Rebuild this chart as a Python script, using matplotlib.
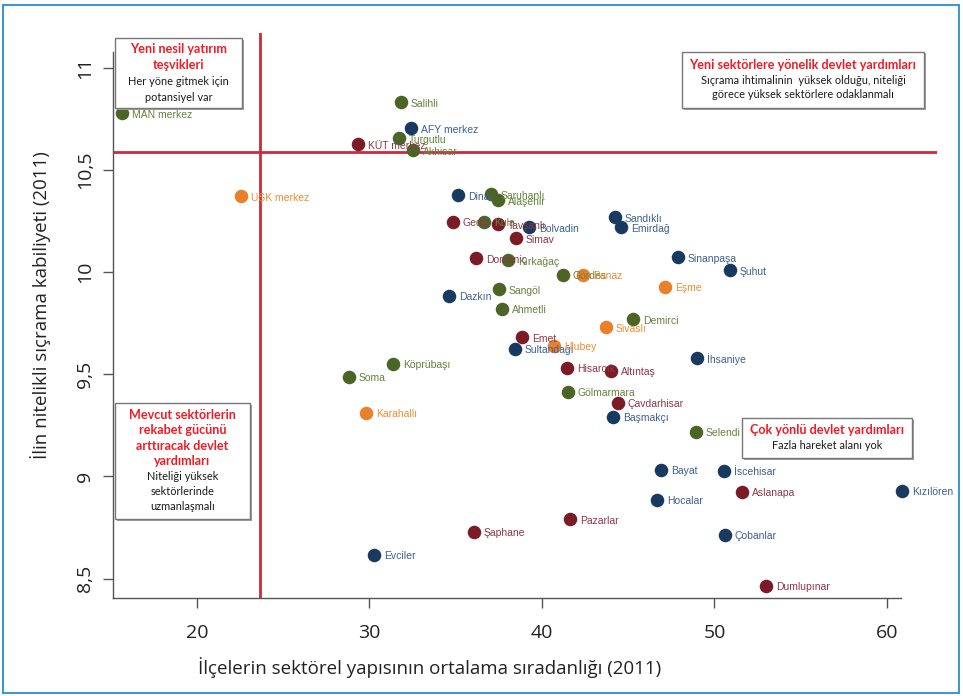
import matplotlib
matplotlib.use("Agg")
import matplotlib.pyplot as plt
from matplotlib.patches import Rectangle
from matplotlib.ticker import FuncFormatter

# districts: name, x (sector ordinariness), y (leap capability), province group
names = ["MAN merkez", "Salihli", "AFY merkez", "Turgutlu", "KÜT merkez", "Akhisar",
         "UŞK merkez", "Dinar", "Saruhanlı", "Alaşehir", "Gediz", "Kula", "Tavşanlı",
         "Bolvadin", "Simav", "Domaniç", "Kırkağaç", "Sandıklı", "Emirdağ", "Sinanpaşa",
         "Şuhut", "Gördes", "Banaz", "Eşme", "Sarıgöl", "Dazkırı", "Ahmetli", "Demirci",
         "Sivaslı", "Emet", "Sultandağı", "Ulubey", "Köprübaşı", "Soma", "Hisarcık",
         "Altıntaş", "Gölmarmara", "Çavdarhisar", "Başmakçı", "Karahallı", "İhsaniye",
         "Selendi", "Bayat", "İscehisar", "Aslanapa", "Kızılören", "Hocalar", "Çobanlar",
         "Dumlupınar", "Pazarlar", "Şaphane", "Evciler"]
xs = [15.65, 31.83, 32.41, 31.71, 29.33, 32.52,
      22.55, 35.13, 37.04, 37.45, 34.84, 36.64, 37.45,
      39.25, 38.49, 36.17, 38.03, 44.23, 44.58, 47.88,
      50.90, 41.22, 42.38, 47.13, 37.51, 34.61, 37.68, 45.28,
      43.71, 38.84, 38.43, 40.70, 31.36, 28.81, 41.45,
      44.00, 41.51, 44.41, 44.12, 29.80, 48.99,
      48.93, 46.90, 50.55, 51.59, 60.87, 46.67, 50.61,
      52.99, 41.62, 36.06, 30.26]
ys = [10.777, 10.831, 10.703, 10.655, 10.625, 10.596,
      10.370, 10.375, 10.380, 10.351, 10.247, 10.247, 10.233,
      10.219, 10.165, 10.067, 10.057, 10.268, 10.219, 10.072,
      10.008, 9.988, 9.988, 9.929, 9.915, 9.885, 9.821, 9.768,
      9.729, 9.680, 9.626, 9.640, 9.552, 9.488, 9.533,
      9.518, 9.415, 9.361, 9.292, 9.310, 9.580,
      9.218, 9.032, 9.027, 8.924, 8.929, 8.885, 8.714,
      8.464, 8.790, 8.729, 8.615]
groups = ["MAN", "MAN", "AFY", "MAN", "KUT", "MAN",
          "USK", "AFY", "MAN", "MAN", "KUT", "MAN", "KUT",
          "AFY", "KUT", "KUT", "MAN", "AFY", "AFY", "AFY",
          "AFY", "MAN", "USK", "USK", "MAN", "AFY", "MAN", "MAN",
          "USK", "KUT", "AFY", "USK", "MAN", "MAN", "KUT",
          "KUT", "MAN", "KUT", "AFY", "USK", "AFY",
          "MAN", "AFY", "AFY", "KUT", "AFY", "AFY", "AFY",
          "KUT", "KUT", "KUT", "AFY"]
# displayed labels as printed in the source figure
labels = list(names)
labels[labels.index("Sarıgöl")] = "Sangöl"
labels[labels.index("Dazkırı")] = "Dazkın"

x_cut = 23.65
y_cut = 10.586

dot_col = {"AFY": "#183a60", "MAN": "#4b6526", "KUT": "#7b1b28", "USK": "#e8802c"}
txt_col = {"AFY": "#3e5f8c", "MAN": "#65813a", "KUT": "#8f3646", "USK": "#ef8b34"}

W, H = 963, 696
fig = plt.figure(figsize=(W / 100, H / 100), dpi=100)
ax = fig.add_axes([113 / W, 1 - 598 / H, (937 - 113) / W, (598 - 33) / H])

for n, x, y, g in zip(labels, xs, ys, groups):
    ax.scatter(x, y, s=95, color=dot_col[g], zorder=3, linewidths=0)
    ax.annotate(n, (x, y), xytext=(7, -1), textcoords="offset points",
                va="center", ha="left", fontsize=7.5, color=txt_col[g],
                family="Liberation Sans", zorder=4)

ax.axvline(x_cut, color="#d0283a", lw=2, zorder=2)
ax.axhline(y_cut, color="#d0283a", lw=2, zorder=2)

ax.set_xlim(15.13, 62.9)
ax.set_ylim(8.405, 11.17)
ax.spines["top"].set_visible(False)
ax.spines["right"].set_visible(False)
ax.spines["bottom"].set_bounds(15.13, 60.8)
ax.spines["left"].set_bounds(8.405, 11.076)
for s in ("bottom", "left"):
    ax.spines[s].set_color("#555555")
    ax.spines[s].set_linewidth(1)

ax.set_xticks([20, 30, 40, 50, 60])
ax.set_yticks([8.5, 9, 9.5, 10, 10.5, 11])
ax.yaxis.set_major_formatter(FuncFormatter(lambda v, p: ("%g" % v).replace(".", ",")))
ax.tick_params(axis="both", length=7, width=1, color="#555555",
               labelsize=14, labelcolor="#222222")
ax.tick_params(axis="x", pad=12)
ax.tick_params(axis="y", pad=6.5)
for t in ax.get_yticklabels():
    t.set_rotation(90)
    t.set_va("center")
for t in ax.get_xticklabels() + ax.get_yticklabels():
    t.set_family("Open Sans")

fig.text(430 / W, 1 - 668 / H, "İlçelerin sektörel yapısının ortalama sıradanlığı (2011)",
         ha="center", va="center", fontsize=13.5, family="Open Sans", color="#222222")
fig.text(41 / W, 1 - 305 / H, "İlin nitelikli sıçrama kabiliyeti (2011)",
         ha="center", va="center", rotation=90, fontsize=13.5,
         family="Open Sans", color="#222222")

# annotation boxes (pixel boxes: left, top, right, bottom)
boxes = [
    ((115, 38, 242, 108), ["Yeni nesil yatırım", "teşvikleri"],
     ["Her yöne gitmek için", "potansiyel var"], 16.3),
    ((682, 52, 924, 108), ["Yeni sektörlere yönelik devlet yardımları"],
     ["Sıçrama ihtimalinin  yüksek olduğu, niteliği", "görece yüksek sektörlere odaklanmalı"], 14.8),
    ((115, 403, 250, 519), ["Mevcut sektörlerin", "rekabet gücünü", "arttıracak devlet", "yardımları"],
     ["Niteliği yüksek", "sektörlerinde", "uzmanlaşmalı"], 15.3),
    ((742, 418, 912, 458), ["Çok yönlü devlet yardımları"], ["Fazla hareket alanı yok"], 15.0),
]
for (l, t, r, b), head, body, step in boxes:
    fig.patches.append(Rectangle((l / W + 1.5 / W, 1 - b / H - 1.5 / H), (r - l) / W, (b - t) / H,
                                 transform=fig.transFigure, facecolor="#a0a0a0",
                                 edgecolor="none", zorder=5))
    fig.patches.append(Rectangle((l / W, 1 - b / H), (r - l) / W, (b - t) / H,
                                 transform=fig.transFigure, facecolor="white",
                                 edgecolor="#777777", lw=1, zorder=6))
    lines = head + body
    cy = (t + b) / 2
    for i, line in enumerate(lines):
        yy = cy + (i - (len(lines) - 1) / 2) * step
        bold = i < len(head)
        fig.text((l + r) / 2 / W, 1 - yy / H, line, ha="center", va="center",
                 fontsize=9.1 if bold else 7.9, fontweight="bold" if bold else "normal",
                 color="#ee1c25" if bold else "#1a1a1a", family="Lato", zorder=7)

fig.patches.append(Rectangle((3 / W, 3 / H), (W - 7) / W, (H - 8) / H,
                             transform=fig.transFigure, facecolor="none",
                             edgecolor="#3d9ad1", lw=1.5, zorder=0))

fig.savefig("out.png", dpi=100)
